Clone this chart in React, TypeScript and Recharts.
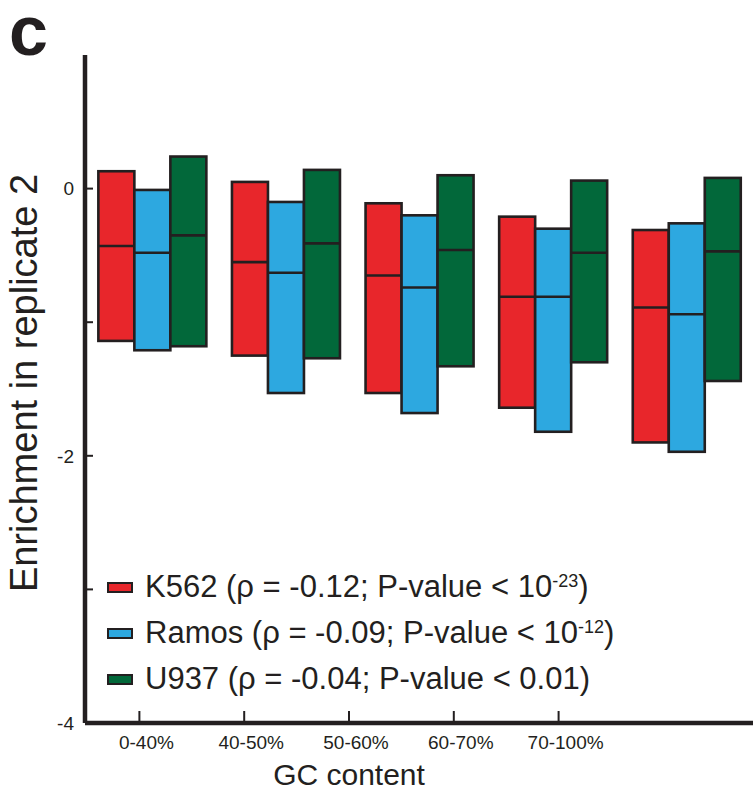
import React from "react";
import { ComposedChart, Bar, XAxis, YAxis, Legend } from "recharts";

// GC content bins
const categories = ["0-40%", "40-50%", "50-60%", "60-70%", "70-100%"];

// box extents (top / median / bottom)
const k562Top = [0.13, 0.05, -0.11, -0.21, -0.31];
const k562Med = [-0.43, -0.55, -0.65, -0.81, -0.89];
const k562Bot = [-1.14, -1.25, -1.53, -1.64, -1.9];

const ramosTop = [-0.01, -0.1, -0.2, -0.3, -0.26];
const ramosMed = [-0.48, -0.63, -0.74, -0.81, -0.94];
const ramosBot = [-1.21, -1.53, -1.68, -1.82, -1.97];

const u937Top = [0.24, 0.14, 0.1, 0.06, 0.08];
const u937Med = [-0.35, -0.41, -0.46, -0.48, -0.47];
const u937Bot = [-1.18, -1.27, -1.33, -1.3, -1.44];

const yTicks = [-4, -3, -2, -1, 0];
const yLabelled = [-4, -2, 0];

const seriesNames = ["K562", "Ramos", "U937"];
const seriesRho = ["-0.12", "-0.09", "-0.04"];
const seriesP = ["10", "10", "0.01"];
const seriesExp = ["-23", "-12", ""];

const INK = "#231f20";
const COLORS = ["#e8262b", "#2da8e0", "#02683a"];
const FONT = "'Liberation Sans', Arial, Helvetica, sans-serif";

const rows = categories.map((gc, i) => ({
  gc,
  k562: [k562Bot[i], k562Top[i]],
  k562Med: k562Med[i],
  ramos: [ramosBot[i], ramosTop[i]],
  ramosMed: ramosMed[i],
  u937: [u937Bot[i], u937Top[i]],
  u937Med: u937Med[i],
}));

// range bar with a median line across it
const boxShape = (key: string) => (props: any) => {
  const { x, y, width, height, fill, payload } = props;
  const top = Math.min(y, y + height);
  const h = Math.abs(height);
  const [lo, hi] = payload[key];
  const med = payload[key + "Med"];
  const my = top + (h * (hi - med)) / (hi - lo);
  return (
    <g>
      <rect x={x} y={top} width={width} height={h} fill={fill} stroke={INK} strokeWidth={2.6} />
      <line x1={x} x2={x + width} y1={my} y2={my} stroke={INK} strokeWidth={2.6} />
    </g>
  );
};

const YTick = (props: any) => {
  const { x, y, payload } = props;
  return (
    <g>
      <line x1={x} x2={x + 8} y1={y} y2={y} stroke={INK} strokeWidth={2} />
      {yLabelled.includes(payload.value) && (
        <text x={x - 11} y={y} dy="0.36em" textAnchor="end" fontSize={19} fill={INK} fontFamily={FONT}>
          {payload.value}
        </text>
      )}
    </g>
  );
};

const XTick = (props: any) => {
  const { x, y, payload } = props;
  return (
    <g>
      <line x1={x} x2={x} y1={y} y2={y - 12} stroke={INK} strokeWidth={2} />
      <text x={x + 7} y={y + 26} textAnchor="middle" fontSize={19} fill={INK} fontFamily={FONT}>
        {payload.value}
      </text>
    </g>
  );
};

const renderLegend = () => (
  <div style={{ fontFamily: FONT, color: INK, fontSize: 31 }}>
    {seriesNames.map((n, i) => (
      <div key={n} style={{ display: "flex", alignItems: "center", height: 46, whiteSpace: "nowrap" }}>
        <span
          style={{
            display: "inline-block",
            width: 22,
            height: 7,
            border: `2px solid ${INK}`,
            background: COLORS[i],
            marginRight: 12,
          }}
        />
        <span>
          {n} (ρ = {seriesRho[i]}; P-value &lt; {seriesP[i]}
          {seriesExp[i] && <sup style={{ fontSize: 18, verticalAlign: "0.55em" }}>{seriesExp[i]}</sup>})
        </span>
      </div>
    ))}
  </div>
);

export default function App() {
  return (
    <div style={{ position: "absolute", left: 0, top: 0, width: 754, height: 792, fontFamily: FONT, background: "#fff" }}>
      <div
        style={{
          position: "absolute",
          left: 9,
          top: 0,
          fontSize: 70,
          lineHeight: "62px",
          fontWeight: 700,
          color: INK,
          fontFamily: FONT,
        }}
      >
        c
      </div>
      <ComposedChart
        width={754}
        height={792}
        data={rows}
        margin={{ top: 55, right: 1, bottom: 0, left: 0 }}
        barCategoryGap="10%"
        barGap={0}
      >
        <XAxis xAxisId="bars" dataKey="gc" hide height={0} />
        <XAxis
          xAxisId="lab"
          dataKey="gc"
          height={69}
          padding={{ left: 2, right: 142 }}
          axisLine={{ stroke: INK, strokeWidth: 4.5 }}
          tickLine={false}
          tickSize={0}
          tickMargin={0}
          tick={<XTick />}
          interval={0}
          label={{
            content: (p: any) => {
              const vb = p.viewBox;
              return (
                <text x={349} y={vb.y + vb.height - 7} textAnchor="middle" fontSize={30} fill={INK} fontFamily={FONT}>
                  GC content
                </text>
              );
            },
          }}
        />
        <YAxis
          type="number"
          domain={[-4, 1]}
          ticks={yTicks}
          width={85}
          allowDataOverflow
          axisLine={{ stroke: INK, strokeWidth: 4.5 }}
          tickLine={false}
          tickSize={0}
          tickMargin={0}
          tick={<YTick />}
          interval={0}
          label={{
            content: () => (
              <text
                x={37}
                y={383}
                transform="rotate(-90, 37, 383)"
                textAnchor="middle"
                fontSize={38}
                fill={INK}
                fontFamily={FONT}
              >
                Enrichment in replicate 2
              </text>
            ),
          }}
        />
        <Legend
          layout="horizontal"
          verticalAlign="middle"
          align="center"
          content={renderLegend}
          wrapperStyle={{ top: 564, left: 107, width: 640, height: 140 }}
        />
        <Bar xAxisId="bars" dataKey="k562" name="K562" fill={COLORS[0]} shape={boxShape("k562")} isAnimationActive={false} />
        <Bar xAxisId="bars" dataKey="ramos" name="Ramos" fill={COLORS[1]} shape={boxShape("ramos")} isAnimationActive={false} />
        <Bar xAxisId="bars" dataKey="u937" name="U937" fill={COLORS[2]} shape={boxShape("u937")} isAnimationActive={false} />
      </ComposedChart>
    </div>
  );
}
